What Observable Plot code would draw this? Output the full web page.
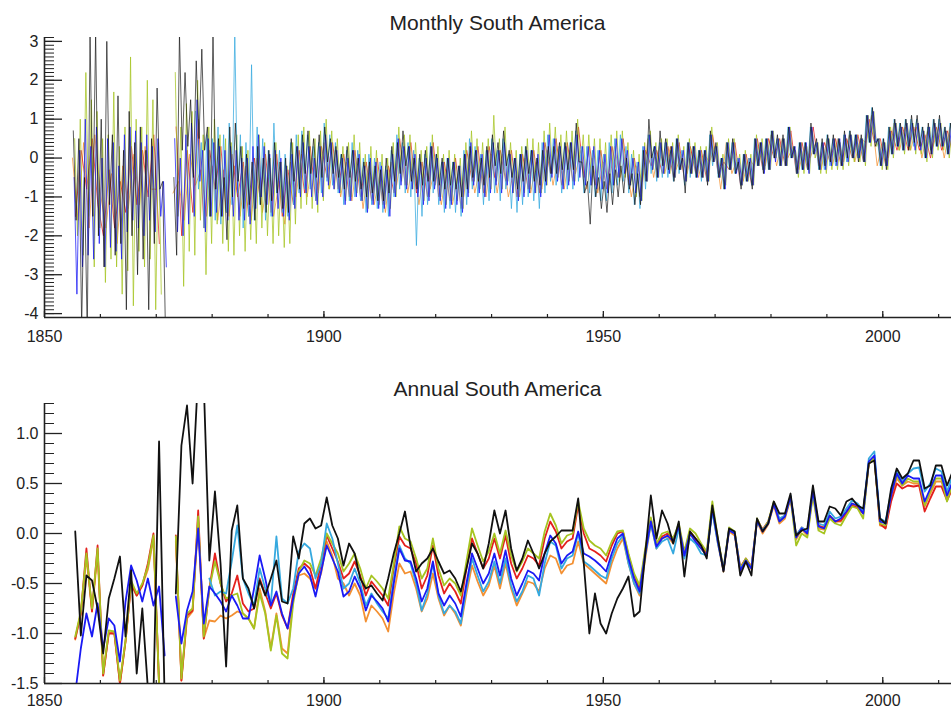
<!DOCTYPE html>
<html><head><meta charset="utf-8">
<script src="https://cdn.jsdelivr.net/npm/d3@7"></script>
<script src="https://cdn.jsdelivr.net/npm/@observablehq/plot@0.6"></script>
<style>
body{margin:0;background:#fff;}
#wrap{position:relative;width:951px;height:709px;overflow:hidden;font-family:"Liberation Sans",Arial,Helvetica,sans-serif;}
.title{position:absolute;left:44px;width:907px;text-align:center;font-size:21px;line-height:21px;color:#222;}
.panel{position:absolute;left:0;}
</style></head><body>
<div id="wrap">
  <div class="title" style="top:12px">Monthly South America</div>
  <div class="panel" id="p1" style="top:0px"></div>
  <div class="title" style="top:378px">Annual South America</div>
  <div class="panel" id="p2" style="top:366px"></div>
</div>
<script>
// ---------- data ----------
const firstYear = 1855, lastYear = 2012;
const years = d3.range(firstYear, lastYear + 1);
const xMajorTicks = [1850, 1900, 1950, 2000];
const monthlyYTicks = [-4, -3, -2, -1, 0, 1, 2, 3];
const annualYTicks = [-1.5, -1.0, -0.5, 0.0, 0.5, 1.0];

// Annual series, 1855..2012 (null = no data)
const annualBlack = [
 0.02,-1.02,-0.42,-0.47,-0.75, -1.2,-0.65,-0.45,-0.23,-1.03, -0.37,-1.4,-0.75,-1.55,-1.6,
 0.92,-1.65,null,-0.6,0.88, 1.28,0.5,1.6,1.5,-0.27, 0.42,-0.3,-1.33,0.03,0.28,
 -0.45,-0.55,-0.75,-0.47,-0.62, -0.45,-0.27,-0.68,-0.7,-0.03, -0.25,0.1,0.15,0.05,0.08,
 0.36,0.08,-0.05,-0.32,-0.1, -0.2,-0.45,-0.55,-0.52,-0.6, -0.67,-0.45,-0.2,0.0,0.22,
 -0.13,-0.38,-0.3,-0.25,-0.15, -0.28,-0.4,-0.37,-0.45,-0.58, -0.35,-0.1,-0.2,-0.35,-0.1,
 0.23,0.0,0.23,-0.15,-0.37, -0.25,-0.07,-0.2,-0.35,-0.2, -0.08,-0.03,0.03,0.03,0.03,
 0.35,-0.3,-1.0,-0.6,-0.9, -1.0,-0.8,-0.65,-0.55,-0.43, -0.83,-0.78,-0.2,0.38,-0.05,
 0.23,0.1,-0.1,0.12,-0.43, 0.02,-0.05,-0.12,-0.25,0.28, -0.05,-0.38,0.05,0.02,-0.42,
 -0.28,-0.42,0.15,0.02,0.1, 0.32,0.2,0.2,0.4,-0.02, 0.03,0.05,0.48,0.12,0.12,
 0.27,0.25,0.18,0.32,0.35, 0.28,0.25,0.7,0.73,0.15, 0.1,0.45,0.65,0.55,0.6,
 0.73,0.73,0.45,0.48,0.68, 0.68,0.48,0.62];
const annualBlue = [
 -1.6,-1.15,-0.8,-1.03,-0.7, -1.15,-0.85,-0.92,-1.28,-0.68, -0.32,-0.47,-0.68,-0.45,-0.72,
 -0.53,-1.22,null,-0.63,-1.1, -0.77,-0.58,0.05,-0.9,-0.53, -0.6,-0.68,-0.78,-0.62,-0.72,
 -0.85,-0.85,-0.55,-0.22,-0.45, -0.72,-0.58,-0.8,-0.95,-0.65, -0.4,-0.33,-0.42,-0.63,-0.38,
 -0.12,-0.25,-0.38,-0.63,-0.58, -0.43,-0.55,-0.77,-0.62,-0.68, -0.75,-0.88,-0.5,-0.15,-0.27,
 -0.28,-0.45,-0.68,-0.55,-0.28, -0.6,-0.72,-0.62,-0.7,-0.83, -0.5,-0.2,-0.35,-0.5,-0.4,
 -0.2,-0.42,-0.17,-0.45,-0.62, -0.5,-0.37,-0.4,-0.47,-0.2, -0.02,-0.1,-0.3,-0.22,-0.18,
 0.02,-0.2,-0.23,-0.27,-0.32, -0.38,-0.2,-0.05,0.0,-0.25, -0.45,-0.58,-0.2,0.12,-0.13,
 -0.05,-0.02,-0.08,0.07,-0.22, 0.0,-0.08,-0.15,-0.22,0.25, -0.08,-0.37,0.03,0.0,-0.37,
 -0.27,-0.35,0.13,0.02,0.1, 0.3,0.12,0.17,0.37,-0.04, 0.05,0.0,0.43,0.07,0.05,
 0.18,0.12,0.15,0.22,0.3, 0.28,0.2,0.72,0.78,0.12, 0.1,0.38,0.6,0.5,0.58,
 0.55,0.55,0.32,0.45,0.58, 0.58,0.38,0.52];
const annualCyan = [
 null,null,null,null,null, null,null,null,null,null, null,null,null,null,null,
 null,null,null,null,null, null,null,null,null,-0.45, -0.62,-0.58,-0.6,-0.28,0.08,
 -0.45,-0.6,-0.72,-0.35,-0.55, -0.7,-0.03,-0.65,-0.7,-0.55, -0.18,-0.1,-0.15,-0.45,-0.3,
 0.1,-0.05,-0.3,-0.55,-0.5, -0.35,-0.5,-0.72,-0.6,-0.7, -0.78,-0.85,-0.45,-0.12,-0.25,
 -0.3,-0.5,-0.77,-0.6,-0.3, -0.62,-0.8,-0.72,-0.78,-0.9, -0.55,-0.25,-0.42,-0.58,-0.48,
 -0.28,-0.5,-0.25,-0.52,-0.68, -0.58,-0.42,-0.45,-0.62,-0.3, -0.08,-0.12,-0.35,-0.25,-0.22,
 0.0,-0.28,-0.32,-0.37,-0.42, -0.45,-0.25,-0.1,-0.02,-0.3, -0.5,-0.6,-0.22,0.1,-0.15,
 -0.08,-0.05,-0.2,0.05,-0.25, -0.05,-0.1,-0.2,-0.22,0.22, -0.1,-0.36,0.04,0.0,-0.36,
 -0.28,-0.35,0.12,0.03,0.1, 0.3,0.15,0.18,0.38,-0.02, 0.06,0.02,0.44,0.1,0.08,
 0.22,0.15,0.17,0.25,0.33, 0.3,0.22,0.75,0.82,0.15, 0.12,0.42,0.62,0.52,0.6,
 0.65,0.66,0.42,0.5,0.65, 0.62,0.42,0.58];
const annualRed = [
 -1.05,-0.8,-0.15,-0.78,-0.12, -1.42,-1.0,-1.0,-1.5,-1.08, -0.5,-0.62,-0.52,-0.3,0.0,
 -1.5,null,null,-0.02,-1.47, -0.82,-0.77,0.23,-1.05,-0.55, -0.2,-0.5,-0.68,-0.6,-0.42,
 -0.7,-0.78,-0.75,-0.45,-0.6, -0.75,-0.6,-0.82,-0.95,-0.6, -0.35,-0.3,-0.35,-0.55,-0.3,
 -0.02,-0.15,-0.28,-0.45,-0.4, -0.28,-0.42,-0.62,-0.48,-0.55, -0.62,-0.72,-0.35,-0.03,-0.12,
 -0.15,-0.3,-0.55,-0.42,-0.12, -0.42,-0.6,-0.5,-0.58,-0.7, -0.35,-0.05,-0.2,-0.35,-0.25,
 -0.05,-0.25,-0.02,-0.3,-0.45, -0.35,-0.22,-0.25,-0.32,-0.05, 0.12,0.02,-0.15,-0.08,-0.05,
 0.28,0.0,-0.15,-0.18,-0.22, -0.28,-0.12,0.0,0.02,-0.22, -0.42,-0.55,-0.18,0.14,-0.1,
 -0.03,0.0,-0.05,0.08,-0.2, 0.02,-0.05,-0.12,-0.2,0.27, -0.07,-0.36,0.05,0.01,-0.34,
 -0.25,-0.33,0.14,0.04,0.12, 0.3,0.14,0.18,0.36,-0.02, 0.06,0.02,0.42,0.08,0.06,
 0.18,0.12,0.13,0.2,0.28, 0.26,0.2,0.7,0.76,0.1, 0.05,0.32,0.5,0.45,0.48,
 0.47,0.48,0.22,0.35,0.47, 0.47,0.33,0.45];
const annualOrange = [
 -1.06,-0.8,-0.24,-0.78,-0.2, -1.42,-0.99,-1.0,-1.5,-1.08, -0.5,-0.62,-0.52,-0.36,-0.05,
 -1.52,null,null,-0.08,-1.47, -0.85,-0.78,0.12,-1.05,-0.87, -0.88,-0.82,-0.85,-0.82,-0.78,
 -0.8,-0.85,-0.95,-0.55,-0.78, -1.15,-0.8,-1.15,-1.2,-0.65, -0.42,-0.4,-0.45,-0.55,-0.4,
 -0.08,-0.22,-0.45,-0.5,-0.62, -0.5,-0.62,-0.88,-0.72,-0.78, -0.85,-0.98,-0.6,-0.3,-0.4,
 -0.38,-0.55,-0.78,-0.65,-0.4, -0.65,-0.82,-0.72,-0.8,-0.92, -0.6,-0.32,-0.48,-0.62,-0.52,
 -0.32,-0.55,-0.3,-0.55,-0.72, -0.6,-0.48,-0.5,-0.58,-0.35, -0.22,-0.25,-0.4,-0.32,-0.3,
 -0.08,-0.3,-0.35,-0.4,-0.45, -0.5,-0.3,-0.15,-0.05,-0.3, -0.5,-0.62,-0.25,0.1,-0.15,
 -0.05,-0.03,-0.1,0.05,-0.22, 0.0,-0.08,-0.15,-0.22,0.24, -0.1,-0.38,0.02,-0.02,-0.38,
 -0.28,-0.36,0.12,0.0,0.09, 0.28,0.1,0.15,0.35,-0.06, 0.04,-0.02,0.4,0.05,0.04,
 0.17,0.12,0.12,0.2,0.3, 0.27,0.2,0.7,0.75,0.08, 0.06,0.36,0.55,0.48,0.52,
 0.5,0.5,0.27,0.4,0.52, 0.52,0.35,0.48];
const annualYellowGreen = [
 -1.03,-0.78,-0.2,-0.75,-0.15, -1.4,-0.97,-0.98,-1.47,-1.07, -0.47,-0.6,-0.5,-0.33,-0.02,
 -1.5,null,null,-0.03,-1.45, -0.8,-0.75,0.17,-1.03,-0.55, -0.28,-0.5,-0.65,-0.62,-0.6,
 -0.8,-0.85,-0.95,-0.6,-0.8, -1.17,-0.82,-1.2,-1.25,-0.7, -0.38,-0.27,-0.3,-0.42,-0.25,
 0.0,-0.1,-0.2,-0.38,-0.3, -0.2,-0.35,-0.55,-0.42,-0.48, -0.55,-0.65,-0.3,0.07,-0.05,
 -0.08,-0.25,-0.45,-0.35,-0.05, -0.35,-0.52,-0.45,-0.5,-0.62, -0.28,0.05,-0.12,-0.28,-0.18,
 0.0,-0.2,0.03,-0.22,-0.38, -0.28,-0.15,-0.2,-0.25,0.02, 0.2,0.08,-0.1,-0.02,0.0,
 0.32,0.05,-0.07,-0.12,-0.15, -0.22,-0.08,0.02,0.03,-0.2, -0.4,-0.52,-0.15,0.16,-0.1,
 0.0,0.02,-0.05,0.1,-0.18, 0.05,0.0,-0.1,-0.18,0.32, -0.05,-0.35,0.06,0.02,-0.35,
 -0.25,-0.34,0.15,0.03,0.12, 0.32,0.12,0.17,0.36,-0.12, 0.0,-0.04,0.38,0.03,0.0,
 0.15,0.1,0.08,0.18,0.27, 0.25,0.15,0.7,0.75,0.1, 0.08,0.4,0.58,0.48,0.55,
 0.52,0.52,0.28,0.42,0.55, 0.55,0.32,0.5];

// Monthly series (estimated, two readings per year from 1855; cyan from 1877)
const monthlyBlack = [
 0.7,-1.6, 0.5,-4.3, -0.5,-4.5, 3.2,-1.5, 3.2,-2.0,
 1.0,-2.8, 3.0,-1.2, 0.6,-2.5, 1.6,-2.2, 0.2,-3.9,
 1.2,-2.0, 0.4,-3.0, 0.8,-2.6, 0.2,-3.9, 0.5,-2.2,
 1.8,-0.8, -0.6,-4.5, null,null, -0.5,-2.5, 3.2,0.2,
 2.2,0.3, 1.5,-0.5, 2.5,0.5, 2.8,0.2, 0.8,-1.5,
 3.2,-0.8, 0.5,-1.5, -0.5,-2.1, 0.8,-1.0, 0.9,-0.6,
 0.3,-1.3, 0.1,-1.2, -0.1,-1.6, 0.3,-1.2, 0.0,-1.4,
 0.2,-1.1, 0.4,-0.9, -0.1,-1.3, 0.0,-1.4, 0.5,-0.6,
 0.3,-0.8, 0.6,-0.4, 0.7,-0.4, 0.5,-0.5, 0.6,-0.5,
 0.8,-0.1, 0.5,-0.4, 0.3,-0.5, 0.1,-0.8, 0.3,-0.5,
 0.2,-0.6, 0.0,-0.8, -0.1,-1.0, -0.1,-0.9, -0.2,-1.1,
 -0.3,-1.1, 0.0,-0.9, 0.3,-0.6, 0.4,-0.4, 0.7,-0.2,
 0.3,-0.6, 0.0,-0.8, 0.1,-0.7, 0.2,-0.6, 0.3,-0.6,
 0.1,-0.7, 0.0,-0.8, 0.0,-0.7, -0.1,-0.8, -0.2,-1.0,
 0.1,-0.8, 0.3,-0.5, 0.2,-0.6, 0.0,-0.7, 0.3,-0.5,
 0.6,-0.2, 0.4,-0.4, 0.7,-0.2, 0.2,-0.5, 0.0,-0.8,
 0.1,-0.6, 0.3,-0.4, 0.2,-0.6, 0.0,-0.7, 0.2,-0.6,
 0.3,-0.4, 0.3,-0.4, 0.4,-0.3, 0.4,-0.3, 0.4,-0.3,
 0.9,-0.1, -0.1,-0.9, -0.6,-1.7, -0.2,-1.0, -0.5,-1.3,
 -0.6,-1.4, -0.4,-1.2, -0.3,-1.0, -0.2,-0.9, 0.0,-0.8,
 -0.4,-1.2, -0.4,-1.2, 0.2,-0.6, 1.0,0.0, 0.3,-0.5,
 0.7,-0.2, 0.5,-0.3, 0.3,-0.6, 0.5,-0.3, 0.0,-0.9,
 0.4,-0.4, 0.3,-0.5, 0.2,-0.5, 0.2,-0.7, 0.7,-0.1,
 0.4,-0.5, 0.0,-0.8, 0.4,-0.3, 0.5,-0.4, -0.1,-0.8,
 0.1,-0.6, -0.1,-0.8, 0.5,-0.2, 0.4,-0.4, 0.5,-0.3,
 0.7,0.0, 0.6,-0.2, 0.6,-0.2, 0.8,0.0, 0.3,-0.4,
 0.4,-0.3, 0.4,-0.3, 0.9,0.1, 0.5,-0.3, 0.5,-0.2,
 0.6,-0.1, 0.6,-0.1, 0.5,-0.2, 0.7,0.0, 0.7,0.0,
 0.6,-0.1, 0.6,-0.1, 1.1,0.4, 1.3,0.3, 0.5,-0.2,
 0.5,-0.3, 0.8,0.1, 1.0,0.3, 0.9,0.2, 1.0,0.2,
 1.1,0.4, 1.1,0.3, 0.8,0.0, 0.9,0.1, 1.0,0.3,
 1.1,0.3, 0.8,0.1, 0.9,0.3];
const monthlyBlue = [
 -0.5,-3.5, 0.2,-2.8, 1.0,-2.5, 0.3,-2.6, 0.8,-2.2,
 0.0,-2.8, 0.5,-2.3, 0.4,-2.4, -0.2,-2.6, 0.6,-1.9,
 0.8,-1.6, 0.7,-1.8, 0.4,-2.0, 0.6,-1.6, 0.3,-1.9,
 0.5,-1.5, -0.6,-2.8, null,null, 0.5,-1.9, 0.0,-2.0,
 0.6,-1.7, 0.9,-1.5, 1.5,-0.6, 0.2,-1.9, 0.5,-1.5,
 0.4,-1.4, 0.3,-1.5, 0.2,-1.6, 0.3,-1.5, 0.2,-1.6,
 0.0,-1.6, 0.0,-1.7, 0.3,-1.3, 0.6,-1.0, 0.3,-1.2,
 0.1,-1.5, 0.2,-1.3, 0.0,-1.5, -0.2,-1.6, 0.1,-1.3,
 0.3,-1.0, 0.4,-0.9, 0.3,-1.0, 0.0,-1.2, 0.3,-1.0,
 0.6,-0.7, 0.4,-0.8, 0.2,-0.9, 0.0,-1.2, 0.0,-1.1,
 0.2,-1.0, 0.1,-1.1, -0.2,-1.4, 0.0,-1.2, -0.1,-1.3,
 -0.2,-1.3, -0.3,-1.5, 0.1,-1.0, 0.5,-0.7, 0.3,-0.8,
 0.3,-0.8, 0.1,-1.0, -0.1,-1.2, 0.0,-1.1, 0.3,-0.8,
 0.0,-1.1, -0.1,-1.3, 0.0,-1.2, -0.1,-1.2, -0.2,-1.4,
 0.1,-1.0, 0.4,-0.7, 0.2,-0.9, 0.1,-1.0, 0.2,-0.9,
 0.4,-0.7, 0.2,-0.9, 0.4,-0.7, 0.1,-0.9, 0.0,-1.1,
 0.1,-1.0, 0.2,-0.9, 0.2,-0.9, 0.1,-1.0, 0.4,-0.7,
 0.6,-0.5, 0.5,-0.6, 0.3,-0.8, 0.3,-0.7, 0.4,-0.7,
 0.6,-0.5, 0.3,-0.7, 0.3,-0.7, 0.3,-0.8, 0.2,-0.8,
 0.1,-0.9, 0.3,-0.7, 0.5,-0.5, 0.5,-0.4, 0.2,-0.7,
 0.0,-0.9, -0.1,-1.1, 0.3,-0.6, 0.6,-0.3, 0.3,-0.5,
 0.4,-0.4, 0.4,-0.4, 0.3,-0.5, 0.5,-0.3, 0.2,-0.6,
 0.4,-0.4, 0.3,-0.5, 0.2,-0.5, 0.2,-0.6, 0.6,-0.1,
 0.3,-0.5, 0.0,-0.8, 0.4,-0.3, 0.4,-0.4, 0.0,-0.7,
 0.1,-0.6, 0.0,-0.7, 0.5,-0.2, 0.4,-0.4, 0.5,-0.3,
 0.7,-0.1, 0.5,-0.2, 0.5,-0.2, 0.8,0.0, 0.3,-0.4,
 0.4,-0.3, 0.4,-0.4, 0.8,0.1, 0.4,-0.3, 0.4,-0.3,
 0.5,-0.2, 0.5,-0.2, 0.5,-0.2, 0.6,-0.1, 0.6,0.0,
 0.6,0.0, 0.5,-0.1, 1.1,0.4, 1.2,0.4, 0.5,-0.2,
 0.4,-0.2, 0.7,0.1, 0.9,0.3, 0.8,0.2, 0.9,0.3,
 0.9,0.2, 0.9,0.2, 0.7,0.0, 0.8,0.1, 0.9,0.3,
 0.9,0.3, 0.7,0.1, 0.8,0.2];
const cyanMonthlyStart = 1877;
const monthlyCyan = [
 1.2,-0.8, 0.4,-1.8, 0.6,-1.5,
 0.5,-1.6, 0.8,-1.7, 0.6,-1.4, 0.9,-1.2, 3.2,-0.9,
 0.6,-1.8, 0.4,-1.5, 2.4,-1.6, 0.8,-1.2, 0.5,-1.6,
 0.2,-1.5, 0.9,-0.9, 0.2,-1.4, 0.1,-1.5, 0.4,-1.2,
 0.6,-0.9, 0.7,-0.8, 0.6,-0.8, 0.3,-1.1, 0.4,-0.9,
 0.9,-0.6, 0.6,-0.7, 0.4,-0.9, 0.1,-1.2, 0.2,-1.1,
 0.4,-1.0, 0.2,-1.1, 0.0,-1.4, 0.1,-1.2, 0.0,-1.3,
 -0.1,-1.4, -0.2,-1.5, 0.2,-1.0, 0.6,-0.8, 0.4,-0.9,
 0.4,-1.0, 0.2,-2.25, 0.0,-1.5, 0.1,-1.2, 0.4,-0.9,
 0.1,-1.2, -0.1,-1.4, 0.0,-1.3, -0.1,-1.4, -0.2,-1.5,
 0.2,-1.2, 0.5,-0.8, 0.3,-1.0, 0.1,-1.2, 0.2,-1.1,
 0.5,-0.9, 0.2,-1.1, 0.5,-0.8, 0.1,-1.3, 0.0,-1.4,
 0.1,-1.2, 0.3,-1.0, 0.2,-1.1, 0.0,-1.3, 0.4,-0.9,
 0.6,-0.6, 0.5,-0.7, 0.3,-0.9, 0.4,-0.8, 0.4,-0.8,
 0.7,-0.6, 0.3,-0.9, 0.3,-0.9, 0.2,-1.0, 0.2,-1.1,
 0.1,-1.1, 0.4,-0.9, 0.5,-0.7, 0.6,-0.6, 0.3,-0.9,
 0.1,-1.2, -0.1,-1.3, 0.3,-0.8, 0.6,-0.4, 0.3,-0.6,
 0.4,-0.5, 0.4,-0.5, 0.2,-0.6, 0.5,-0.4, 0.2,-0.7,
 0.4,-0.5, 0.3,-0.5, 0.2,-0.6, 0.2,-0.6, 0.6,-0.2,
 0.3,-0.5, 0.0,-0.8, 0.4,-0.3, 0.4,-0.4, 0.0,-0.7,
 0.1,-0.6, 0.0,-0.7, 0.5,-0.2, 0.4,-0.3, 0.5,-0.3,
 0.7,0.0, 0.5,-0.2, 0.5,-0.2, 0.8,0.0, 0.3,-0.4,
 0.4,-0.3, 0.4,-0.3, 0.8,0.1, 0.4,-0.3, 0.4,-0.3,
 0.6,-0.2, 0.5,-0.2, 0.5,-0.2, 0.6,-0.1, 0.7,0.0,
 0.6,0.0, 0.5,-0.1, 1.1,0.4, 1.3,0.4, 0.5,-0.2,
 0.5,-0.2, 0.8,0.1, 1.0,0.3, 0.9,0.2, 1.0,0.3,
 1.0,0.3, 1.0,0.3, 0.8,0.0, 0.8,0.2, 1.0,0.3,
 1.0,0.3, 0.8,0.1, 0.9,0.3];
const monthlyYellowGreen = [
 0.5,-2.0, 1.0,-2.5, 2.2,-1.5, 1.5,-2.8, 1.2,-1.8,
 0.5,-3.2, 0.6,-2.6, 1.7,-2.8, 0.3,-3.5, 0.8,-2.9,
 2.6,-3.8, 1.0,-2.4, 0.8,-2.8, 2.0,-2.6, 1.5,-3.9,
 0.4,-3.5, null,null, null,null, 2.2,-1.5, 0.8,-3.3,
 1.4,-2.4, 1.2,-2.5, 2.0,-1.6, 0.6,-3.0, 0.8,-2.2,
 1.0,-1.7, 0.6,-2.2, 0.5,-2.4, 0.4,-2.5, 0.6,-2.0,
 0.3,-2.4, 0.2,-2.1, 0.0,-2.2, 0.6,-1.8, 0.4,-2.0,
 0.0,-2.2, 0.4,-2.0, -0.1,-2.3, -0.2,-2.2, 0.4,-1.7,
 0.6,-1.3, 0.8,-1.2, 0.7,-1.3, 0.5,-1.4, 0.7,-1.1,
 1.0,-0.8, 0.7,-0.8, 0.5,-0.9, 0.3,-1.1, 0.4,-1.0,
 0.6,-0.9, 0.4,-1.1, 0.1,-1.3, 0.3,-1.1, 0.2,-1.2,
 0.1,-1.2, 0.0,-1.3, 0.4,-1.0, 0.8,-0.6, 0.6,-0.7,
 0.6,-0.8, 0.4,-0.9, 0.2,-1.1, 0.3,-1.0, 0.6,-0.7,
 0.3,-1.0, 0.1,-1.2, 0.2,-1.1, 0.1,-1.1, 0.0,-1.3,
 0.4,-0.9, 0.7,-0.6, 0.5,-0.8, 0.4,-0.9, 0.5,-0.8,
 1.1,-0.6, 0.5,-0.8, 0.8,-0.6, 0.4,-0.9, 0.2,-1.0,
 0.3,-0.9, 0.5,-0.8, 0.5,-0.9, 0.4,-0.9, 0.7,-0.7,
 0.9,-0.4, 0.8,-0.5, 0.6,-0.7, 0.7,-0.6, 0.7,-0.6,
 1.0,-0.3, 0.6,-0.6, 0.6,-0.7, 0.5,-0.7, 0.5,-0.8,
 0.4,-0.9, 0.6,-0.7, 0.7,-0.6, 0.7,-0.5, 0.4,-0.7,
 0.2,-1.0, 0.1,-1.1, 0.4,-0.6, 0.7,-0.3, 0.4,-0.5,
 0.5,-0.4, 0.5,-0.4, 0.4,-0.5, 0.6,-0.3, 0.3,-0.6,
 0.5,-0.4, 0.4,-0.4, 0.3,-0.5, 0.3,-0.6, 0.8,-0.1,
 0.4,-0.5, 0.1,-0.7, 0.5,-0.3, 0.5,-0.3, 0.1,-0.7,
 0.2,-0.6, 0.1,-0.7, 0.6,-0.2, 0.5,-0.3, 0.5,-0.3,
 0.7,0.0, 0.5,-0.2, 0.5,-0.2, 0.8,0.0, 0.2,-0.5,
 0.4,-0.4, 0.3,-0.4, 0.7,0.0, 0.4,-0.4, 0.3,-0.4,
 0.5,-0.3, 0.5,-0.3, 0.4,-0.3, 0.5,-0.2, 0.6,-0.1,
 0.6,-0.1, 0.5,-0.2, 1.1,0.3, 1.2,0.3, 0.5,-0.3,
 0.4,-0.3, 0.8,0.0, 0.9,0.2, 0.8,0.1, 0.9,0.2,
 0.9,0.1, 0.9,0.1, 0.7,-0.1, 0.8,0.0, 0.9,0.2,
 0.9,0.2, 0.7,0.0, 0.8,0.1];
// one reading per year from 1855
const monthlyRed = [
 -1.5,0.2,-0.8,0.5,-1.2, -2.0,-0.3,-1.8,-0.6,-1.4, 0.3,-1.2,0.2,-1.0,0.6,
 -2.2,null,null,0.8,-2.0, 0.2,-1.4,1.0,-1.8,0.2, -0.8,0.3,-1.4,0.1,-1.0,
 -0.1,-1.5,0.0,-1.0,0.1, -1.4,0.1,-1.5,-0.3,-1.2, 0.2,-0.9,0.3,-1.1,0.3,
 -0.5,0.4,-0.8,0.1,-1.0, 0.2,-1.0,-0.1,-1.1,0.0, -1.2,-0.2,-0.9,0.5,-0.7,
 0.4,-0.9,-0.1,-1.0,0.4, -1.0,-0.1,-1.1,0.0,-1.3, 0.2,-0.6,0.3,-0.9,0.3,
 -0.5,0.2,-0.6,0.2,-1.0, 0.1,-0.8,0.2,-0.9,0.4, -0.4,0.5,-0.7,0.4,-0.6,
 0.8,-0.5,0.3,-0.7,0.2, -0.8,0.3,-0.5,0.5,-0.7, 0.0,-1.0,0.2,-0.2,0.2,
 -0.4,0.3,-0.5,0.4,-0.6, 0.3,-0.4,0.2,-0.6,0.6, -0.4,-0.1,-0.3,0.4,-0.7,
 0.1,-0.7,0.5,-0.3,0.5, 0.0,0.5,-0.2,0.7,-0.4, 0.4,-0.3,0.8,-0.2,0.4,
 -0.1,0.5,-0.2,0.5,0.0, 0.6,-0.1,1.0,0.4,0.5, -0.2,0.7,0.2,0.8,0.2,
 0.8,0.2,0.6,0.0,0.8, 0.2,0.7,0.1];
const monthlyOrange = [
 0.0,-1.6,0.4,-1.8,0.6, -0.9,-1.8,-0.4,-2.2,-0.2, -1.3,0.1,-1.2,0.3,-0.8,
 -0.8,null,null,-0.9,-0.6, -1.6,0.1,-0.7,-0.3,-1.5, -0.2,-1.6,-0.3,-1.5,-0.2,
 -1.5,-0.2,-1.6,0.0,-1.4, -0.5,-1.5,-0.6,-1.7,-0.1, -1.0,0.1,-1.0,0.0,-0.9,
 0.4,-0.8,0.2,-1.0,-0.1, -1.1,0.0,-1.3,-0.2,-1.2, -0.4,-1.4,-0.1,-0.7,0.2,
 -0.9,0.0,-1.2,-0.2,-0.8, -0.2,-1.2,-0.3,-1.2,-0.4, -1.0,0.1,-0.9,-0.2,-1.0,
 0.1,-0.9,0.1,-1.0,-0.3, -1.0,0.0,-0.9,-0.1,-0.8, 0.2,-0.7,0.1,-0.8,0.2,
 -0.4,0.2,-0.8,0.0,-0.9, -0.1,-0.7,0.3,-0.5,0.1, -1.0,-0.2,-0.6,0.5,-0.5,
 0.3,-0.4,0.3,-0.3,0.1, -0.4,0.3,-0.5,0.1,-0.1, 0.3,-0.8,0.4,-0.4,0.0,
 -0.6,0.0,-0.2,0.4,-0.2, 0.6,-0.2,0.5,0.0,0.3, -0.3,0.3,0.0,0.4,-0.3,
 0.5,-0.2,0.5,-0.1,0.6, -0.1,0.5,0.4,1.1,-0.2, 0.4,0.0,0.9,0.2,0.8,
 0.2,0.8,0.0,0.7,0.3, 0.8,0.0,0.8];

const colors = {
  black: "#111111", blue: "#1a1af5", cyan: "#36a9df",
  red: "#e3201c", orange: "#f39032", yellowgreen: "#a6c421"
};

// ---------- helpers ----------
const annualRows = vals => vals.map((v, i) => ({t: years[i] + 0.5, v}));
const sampledRows = (vals, start, perYear, phase) => vals.map((v, i) => ({t: start + i / perYear + phase, v}));

const W = 951, ML = 44, MR = 0;
const xDomain = [1850, 2012.3];
const xMinor = d3.range(1860, 2011, 10);

function panel({lines, yDomain, yMajor, yMinor, yFormat, height, marginTop, marginBottom, xPad}) {
  const plotW = W - ML - MR;
  const plotH = height - marginTop - marginBottom;
  return Plot.plot({
    width: W, height, marginLeft: ML, marginRight: MR, marginTop, marginBottom,
    x: {domain: xDomain, label: null},
    y: {domain: yDomain, label: null},
    style: {fontFamily: "'Liberation Sans', Arial, Helvetica, sans-serif", color: "#222", background: "transparent", overflow: "visible"},
    marks: [
      ...lines,
      Plot.ruleY(yMinor, {y: d => d, stroke: "#222", strokeWidth: 1, insetRight: plotW - 10}),
      Plot.ruleY(yMajor, {y: d => d, stroke: "#222", strokeWidth: 1.3, insetRight: plotW - 18}),
      Plot.ruleX(xMinor, {x: d => d, stroke: "#222", strokeWidth: 1.2, insetTop: plotH - 3}),
      Plot.ruleX(xMajorTicks, {x: d => d, stroke: "#222", strokeWidth: 1.3, insetTop: plotH - 6}),
      Plot.ruleX([xDomain[0]], {stroke: "#222", strokeWidth: 1.6}),
      Plot.ruleY([yDomain[0]], {stroke: "#222", strokeWidth: 1.6}),
      Plot.axisX({ticks: xMajorTicks, tickSize: 0, tickPadding: xPad, tickFormat: d => String(d), fontSize: 16, label: null}),
      Plot.axisY({ticks: yMajor, tickSize: 0, tickPadding: 6, tickFormat: yFormat, fontSize: 16, label: null})
    ]
  });
}

const thin = 0.75, thick = 1.8;
const monthlyLines = [
  Plot.line(sampledRows(monthlyOrange, firstYear, 1, 0.0), {x: "t", y: "v", stroke: colors.orange, strokeWidth: thin, clip: true}),
  Plot.line(sampledRows(monthlyRed, firstYear, 1, 0.55), {x: "t", y: "v", stroke: colors.red, strokeWidth: thin, clip: true}),
  Plot.line(sampledRows(monthlyYellowGreen, firstYear, 2, 0.4), {x: "t", y: "v", stroke: colors.yellowgreen, strokeWidth: thin, clip: true}),
  Plot.line(sampledRows(monthlyCyan, cyanMonthlyStart, 2, 0.05), {x: "t", y: "v", stroke: colors.cyan, strokeWidth: thin, clip: true}),
  Plot.line(sampledRows(monthlyBlue, firstYear, 2, 0.3), {x: "t", y: "v", stroke: colors.blue, strokeWidth: thin, clip: true}),
  Plot.line(sampledRows(monthlyBlack, firstYear, 2, 0.15), {x: "t", y: "v", stroke: colors.black, strokeWidth: thin, strokeOpacity: 0.9, clip: true})
];
const annualLines = [
  [annualOrange, colors.orange], [annualRed, colors.red], [annualYellowGreen, colors.yellowgreen],
  [annualCyan, colors.cyan], [annualBlue, colors.blue], [annualBlack, colors.black]
].map(([vals, c]) => Plot.line(annualRows(vals), {x: "t", y: "v", stroke: c, strokeWidth: thick, clip: true}));

document.getElementById("p1").append(panel({
  lines: monthlyLines, yDomain: [-4.1, 3.1], yMajor: monthlyYTicks,
  yMinor: d3.range(-41, 32).map(d => d / 10), yFormat: d => String(d),
  height: 355, marginTop: 37, marginBottom: 38, xPad: 13
}));
document.getElementById("p2").append(panel({
  lines: annualLines, yDomain: [-1.5, 1.3], yMajor: annualYTicks,
  yMinor: d3.range(-15, 14).map(d => d / 10), yFormat: d => d.toFixed(1),
  height: 343, marginTop: 37, marginBottom: 26, xPad: 11
}));
</script>
</body></html>
